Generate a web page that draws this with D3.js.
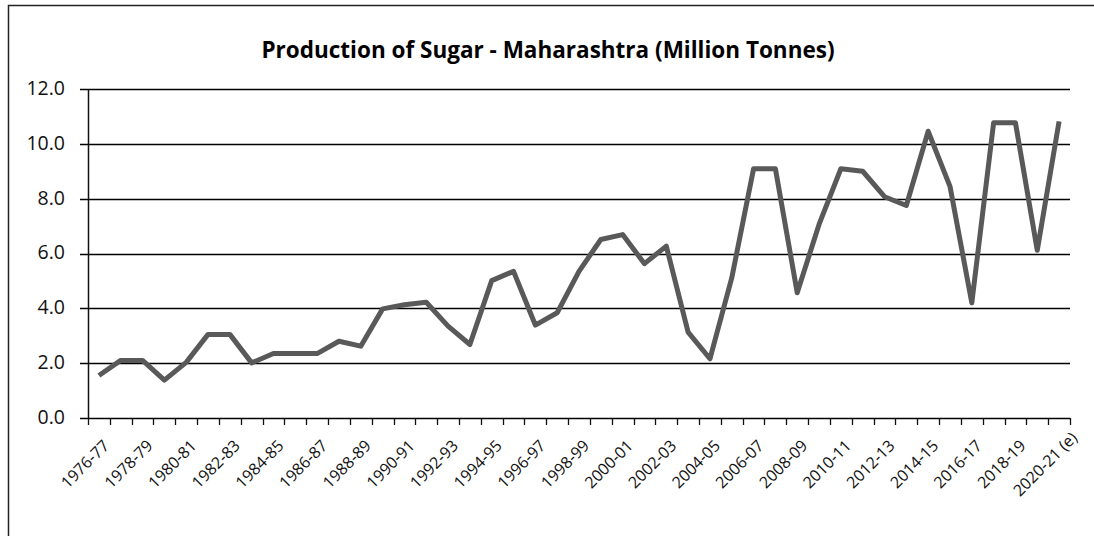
<!DOCTYPE html>
<html>
<head>
<meta charset="utf-8">
<script src="https://cdn.jsdelivr.net/npm/d3@7"></script>
<style>
  body { margin: 0; background: #fff; }
  svg { display: block; font-family: "Open Sans", "Noto Sans", sans-serif; }
</style>
</head>
<body>
<script>
// Sugar production, Maharashtra (million tonnes)
var SEASONS = ["1976-77", "1977-78", "1978-79", "1979-80", "1980-81", "1981-82", "1982-83", "1983-84",
  "1984-85", "1985-86", "1986-87", "1987-88", "1988-89", "1989-90", "1990-91", "1991-92", "1992-93",
  "1993-94", "1994-95", "1995-96", "1996-97", "1997-98", "1998-99", "1999-00", "2000-01", "2001-02",
  "2002-03", "2003-04", "2004-05", "2005-06", "2006-07", "2007-08", "2008-09", "2009-10", "2010-11",
  "2011-12", "2012-13", "2013-14", "2014-15", "2015-16", "2016-17", "2017-18", "2018-19", "2019-20",
  "2020-21 (e)"];
var PRODUCTION = [1.55, 2.1, 2.1, 1.38, 2.03, 3.05, 3.05, 2.01, 2.35, 2.35, 2.35, 2.8, 2.62,
  3.98, 4.13, 4.22, 3.35, 2.68, 5.01, 5.35, 3.39, 3.84, 5.35, 6.51, 6.69, 5.63, 6.27, 3.13,
  2.16, 5.11, 9.09, 9.09, 4.57, 7.06, 9.09, 9.0, 8.07, 7.75, 10.46, 8.45, 4.2, 10.77, 10.77,
  6.12, 10.82];
var Y_TICKS = [0, 2, 4, 6, 8, 10, 12];

var w = 1094, h = 536;
var margin = { left: 88, right: 24, top: 89, bottom: 118 };
var iw = w - margin.left - margin.right;
var ih = h - margin.top - margin.bottom;

var svg = d3.select("body").append("svg").attr("width", w).attr("height", h);

// outer frame (runs off the right and bottom of the picture)
svg.append("rect").attr("x", 8.5).attr("y", 5.5).attr("width", w + 10).attr("height", h + 10)
  .attr("fill", "none").attr("stroke", "#222").attr("stroke-width", 1.5);

svg.append("text").attr("x", 548).attr("y", 58).attr("text-anchor", "middle")
  .style("font-size", "22.5px").style("font-weight", "bold").attr("fill", "#000")
  .text("Production of Sugar - Maharashtra (Million Tonnes)");

var g = svg.append("g").attr("transform", "translate(" + margin.left + "," + margin.top + ")");

var x = d3.scaleBand().domain(SEASONS).range([0, iw]);
var y = d3.scaleLinear().domain([0, 12]).range([ih, 0]);

// gridlines + y ticks
g.selectAll(".grid").data(Y_TICKS).enter().append("line").attr("class", "grid")
  .attr("x1", -8).attr("x2", iw).attr("y1", function (d) { return Math.round(y(d)) + 0.5; })
  .attr("y2", function (d) { return Math.round(y(d)) + 0.5; })
  .attr("stroke", "#000").attr("stroke-width", 1.3);

g.selectAll(".ylab").data(Y_TICKS).enter().append("text")
  .attr("x", -23).attr("y", function (d) { return y(d); }).attr("dy", "0.3em")
  .attr("text-anchor", "end").style("font-size", "19.5px").attr("fill", "#111")
  .text(function (d) { return d.toFixed(1); });

// y axis line
g.append("line").attr("x1", 0.5).attr("x2", 0.5).attr("y1", 0).attr("y2", ih)
  .attr("stroke", "#111").attr("stroke-width", 1.5);

// x ticks at band edges
var edges = SEASONS.map(function (s) { return x(s); }).concat([iw]);
g.selectAll(".xtick").data(edges).enter().append("line")
  .attr("x1", function (d) { return Math.round(d) + 0.5; }).attr("x2", function (d) { return Math.round(d) + 0.5; })
  .attr("y1", ih).attr("y2", ih + 7).attr("stroke", "#111").attr("stroke-width", 1.3);

// rotated labels, every other season, centred on a point below-left of the band
g.selectAll(".xlab").data(SEASONS.filter(function (s, i) { return i % 2 === 0; })).enter().append("text")
  .attr("transform", function (d) {
    return "translate(" + (x(d) + x.bandwidth() / 2 - 10) + "," + (ih + 50) + ") rotate(-45)";
  })
  .attr("text-anchor", "middle").style("font-size", "16px").attr("fill", "#111")
  .text(function (d) { return d; });

var line = d3.line()
  .x(function (d, i) { return x(SEASONS[i]) + x.bandwidth() / 2; })
  .y(function (d) { return y(d); });

g.append("path").datum(PRODUCTION).attr("d", line)
  .attr("fill", "none").attr("stroke", "#595959").attr("stroke-width", 5)
  .attr("stroke-linejoin", "round").attr("stroke-linecap", "butt");
</script>
</body>
</html>
